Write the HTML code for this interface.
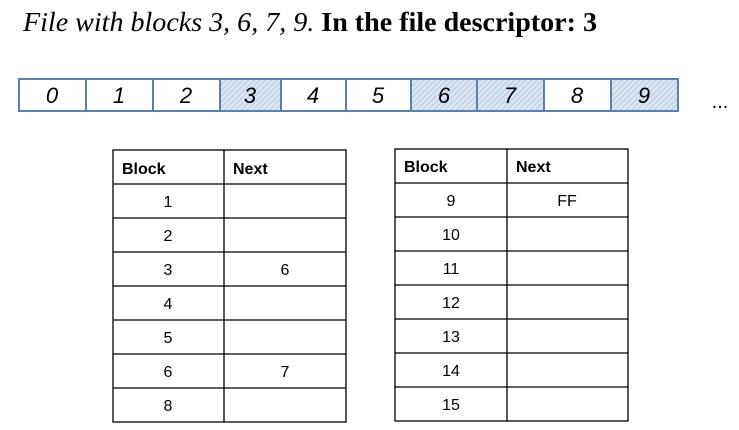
<!DOCTYPE html>
<html><head><meta charset="utf-8"><style>
body{margin:0;width:739px;height:430px;background:#fff;overflow:hidden;position:relative}
svg{position:absolute;left:0;top:0}
</style></head><body>
<svg width="739" height="430" xmlns="http://www.w3.org/2000/svg">
<defs><pattern id="h" width="4" height="4" patternUnits="userSpaceOnUse" patternTransform="rotate(45)"><rect width="4" height="4" fill="#dce6f2"/><line x1="0" y1="0" x2="0" y2="4" stroke="#a8bfd8" stroke-width="1.5"/></pattern></defs>
<text x="23" y="31" font-family="Liberation Serif, serif" font-size="27" textLength="574" lengthAdjust="spacingAndGlyphs"><tspan font-style="italic">File with blocks 3, 6, 7, 9.</tspan><tspan font-weight="bold"> In the file descriptor: 3</tspan></text>
<g stroke="#5b7fa8" stroke-width="2">
<rect x="19" y="79" width="67" height="32" fill="#fff"/>
<rect x="86" y="79" width="67" height="32" fill="#fff"/>
<rect x="153" y="79" width="67" height="32" fill="#fff"/>
<rect x="220" y="79" width="61" height="32" fill="url(#h)"/>
<rect x="281" y="79" width="65" height="32" fill="#fff"/>
<rect x="346" y="79" width="65" height="32" fill="#fff"/>
<rect x="411" y="79" width="66" height="32" fill="url(#h)"/>
<rect x="477" y="79" width="67" height="32" fill="url(#h)"/>
<rect x="544" y="79" width="67" height="32" fill="#fff"/>
<rect x="611" y="79" width="67" height="32" fill="url(#h)"/>
</g>
<g font-family="Liberation Sans, sans-serif" font-style="italic" font-size="22" text-anchor="middle">
<text x="52" y="103">0</text><text x="119" y="103">1</text><text x="186" y="103">2</text><text x="250" y="103">3</text><text x="313" y="103">4</text><text x="378" y="103">5</text><text x="444" y="103">6</text><text x="510" y="103">7</text><text x="577" y="103">8</text><text x="644" y="103">9</text>
</g>
<text x="720" y="108" font-family="Liberation Sans, sans-serif" font-size="20" text-anchor="middle">...</text>
<g stroke="#000" stroke-width="1.3" fill="none">
<rect x="113" y="150" width="233" height="272"/>
<line x1="224" y1="150" x2="224" y2="422"/>
<line x1="113" y1="184" x2="346" y2="184"/><line x1="113" y1="218" x2="346" y2="218"/><line x1="113" y1="252" x2="346" y2="252"/><line x1="113" y1="286" x2="346" y2="286"/><line x1="113" y1="320" x2="346" y2="320"/><line x1="113" y1="354" x2="346" y2="354"/><line x1="113" y1="388" x2="346" y2="388"/>
<rect x="395" y="149" width="233" height="272"/>
<line x1="507" y1="149" x2="507" y2="421"/>
<line x1="395" y1="183" x2="628" y2="183"/><line x1="395" y1="217" x2="628" y2="217"/><line x1="395" y1="251" x2="628" y2="251"/><line x1="395" y1="285" x2="628" y2="285"/><line x1="395" y1="319" x2="628" y2="319"/><line x1="395" y1="353" x2="628" y2="353"/><line x1="395" y1="387" x2="628" y2="387"/>
</g>
<g font-family="Liberation Sans, sans-serif" font-size="16">
<text x="122" y="174" font-weight="bold">Block</text><text x="233" y="174" font-weight="bold">Next</text>
<text x="404" y="172" font-weight="bold">Block</text><text x="516" y="172" font-weight="bold">Next</text>
<g text-anchor="middle">
<text x="168" y="207">1</text><text x="168" y="241">2</text><text x="168" y="275">3</text><text x="168" y="309">4</text><text x="168" y="343">5</text><text x="168" y="377">6</text><text x="168" y="411">8</text>
<text x="285" y="275">6</text><text x="285" y="377">7</text>
<text x="451" y="206">9</text><text x="451" y="240">10</text><text x="451" y="274">11</text><text x="451" y="308">12</text><text x="451" y="342">13</text><text x="451" y="376">14</text><text x="451" y="410">15</text>
<text x="567" y="206">FF</text>
</g></g>
</svg>
</body></html>
